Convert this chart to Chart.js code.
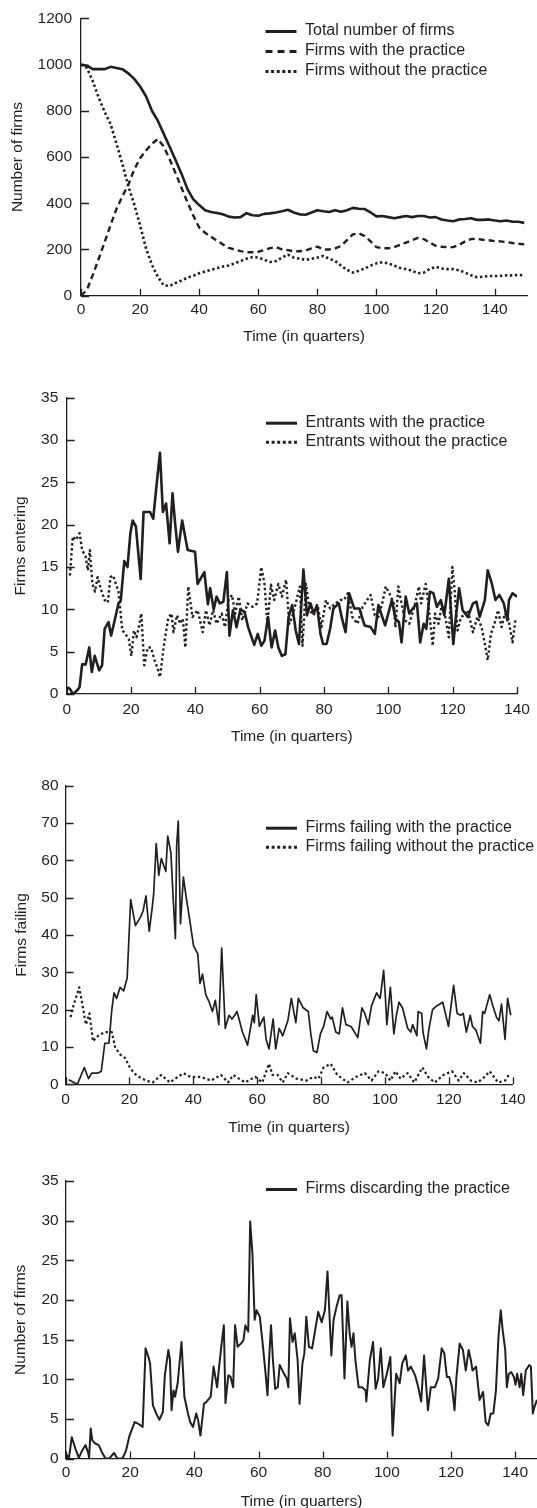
<!DOCTYPE html>
<html>
<head>
<meta charset="utf-8">
<title>Firm population, entry, failure and discarding</title>
<script src="https://cdn.jsdelivr.net/npm/chart.js@4.4.1/dist/chart.umd.min.js"></script>
<style>
  html, body { margin: 0; padding: 0; background: #fff; overflow: hidden; }
  body { width: 537px; height: 1508px; position: relative; }
  canvas { position: absolute; left: 0; }
</style>
</head>
<body>
<canvas id="popChart"></canvas>
<canvas id="entryChart"></canvas>
<canvas id="failChart"></canvas>
<canvas id="discardChart"></canvas>
<script>
// ---- Panel 1: number of firms (every 2 quarters) ----
var popTime = [0, 2, 4, 6, 8, 10, 12, 14, 16, 18,
    20, 22, 24, 26, 28, 30, 32, 34, 36, 38,
    40, 42, 44, 46, 48, 50, 52, 54, 56, 58,
    60, 62, 64, 66, 68, 70, 72, 74, 76, 78,
    80, 82, 84, 86, 88, 90, 92, 94, 96, 98,
    100, 102, 104, 106, 108, 110, 112, 114, 116, 118,
    120, 122, 124, 126, 128, 130, 132, 134, 136, 138,
    140, 142, 144, 146, 148, 150];
var popTotal = [1000, 995, 980, 980, 980, 990, 985, 980, 962, 938,
    905, 863, 800, 757, 700, 644, 587, 528, 462, 417,
    392, 370, 362, 358, 352, 342, 338, 340, 357, 348,
    346, 354, 356, 360, 365, 372, 360, 352, 350, 360,
    370, 365, 362, 370, 363, 370, 380, 376, 375, 360,
    343, 345, 340, 335, 340, 345, 340, 345, 345, 338,
    340, 330, 325, 322, 330, 332, 335, 328, 328, 330,
    325, 322, 325, 320, 320, 315];
var popWith = [0, 25, 90, 160, 232, 305, 375, 430, 480, 545,
    595, 628, 657, 678, 645, 590, 530, 467, 405, 347,
    295, 272, 255, 238, 222, 207, 200, 193, 188, 188,
    190, 197, 206, 210, 200, 197, 192, 192, 195, 205,
    212, 200, 200, 205, 215, 240, 265, 270, 258, 235,
    210, 205, 205, 210, 220, 230, 240, 250, 245, 230,
    216, 212, 210, 210, 220, 235, 245, 246, 242, 240,
    236, 235, 232, 228, 225, 222];
var popWithout = [1000, 985, 928, 856, 795, 743, 658, 570, 474, 396,
    304, 205, 134, 82, 45, 42, 55, 66, 78, 86,
    97, 105, 112, 120, 126, 131, 140, 150, 160, 167,
    165, 155, 146, 150, 165, 178, 165, 160, 155, 160,
    165, 172, 160, 150, 130, 112, 100, 108, 118, 130,
    140, 145, 140, 130, 120, 115, 108, 97, 100, 115,
    125, 118, 115, 115, 110, 100, 88, 80, 82, 85,
    85, 86, 88, 88, 90, 88];

// ---- Panel 2: firms entering ----
var entWithT = [0.2, 1, 1.9, 3.2, 4, 4.8, 5.9, 7, 7.8, 8.7,
    10.1, 11, 11.8, 13, 13.8, 14.8, 16.1, 16.8, 17.9, 18.9,
    19.8, 20.5, 21.5, 23, 23.9, 25.9, 26.9, 28, 29, 29.9,
    30.9, 32, 32.9, 33.7, 34.6, 35.9, 37.6, 39.9, 40.7, 42.8,
    43.9, 44.6, 45.7, 46.6, 47.6, 48.7, 49.8, 50.6, 51.7, 52.8,
    54, 55.3, 56.4, 58.3, 59.4, 60.5, 61.5, 62.6, 63.7, 64.8,
    65.8, 66.9, 68, 69, 70.1, 71.2, 72.2, 73.6, 74.7, 75.8,
    76.8, 77.8, 78.9, 79.7, 80.8, 81.9, 82.9, 84.6, 85.6, 86.7,
    87.8, 89.4, 91, 92.6, 94.5, 95.8, 96.9, 98.1, 99, 101.1,
    102.2, 103.3, 104.1, 105.4, 106.5, 107.6, 108.9, 109.9, 111, 111.8,
    112.9, 114, 115.1, 116.3, 117.4, 118.8, 120.2, 121, 122, 123.1,
    124.7, 126.3, 127.4, 128.4, 130, 130.9, 132.2, 133.3, 134.5, 135.9,
    137, 137.5, 138.6, 140];
var entWithV = [0.8, 0.6, 0, 0.4, 0.8, 3.5, 3.5, 5.5, 2.6, 4.5,
    2.8, 3.4, 7.7, 8.5, 6.9, 8.5, 10.7, 11, 15.7, 15,
    19, 20.5, 19.8, 13.6, 21.5, 21.5, 20.7, 24.9, 28.5, 21.5,
    22.5, 17.8, 23.7, 20.2, 16.8, 20.5, 17, 16.8, 13, 14.4,
    10.6, 12.5, 10, 11.5, 10.7, 10.9, 14.4, 6.9, 9.9, 7.9,
    10, 9.7, 7.9, 5.8, 7.1, 5.7, 6.3, 9.1, 5.5, 7.5,
    5.5, 4.5, 4.7, 9.1, 10.5, 7.5, 5.9, 14.7, 9.3, 10.7,
    9.5, 10.5, 7.1, 5.9, 5.9, 7.7, 10.1, 10.7, 8.9, 7.3,
    11.9, 10.1, 10.1, 8.1, 7.9, 7.1, 10.5, 9.1, 8.1, 11.1,
    8.9, 8.5, 6.1, 11.5, 9.5, 10.1, 10.7, 6.1, 8.3, 7.7,
    12.1, 11.9, 10.3, 11.1, 9.3, 13.6, 5.9, 9.1, 12.5, 9.9,
    9.1, 10.7, 10.9, 9.1, 11.1, 14.6, 13, 11.1, 11.7, 10.7,
    8.7, 11.1, 11.9, 11.5];
var entWithoutT = [1, 1.9, 2.9, 4, 4.8, 5.9, 6.6, 7.2, 8, 8.8,
    9.6, 10.7, 11.8, 12.8, 13.6, 14.4, 15.3, 16.1, 17.3, 18.2,
    19.3, 20.1, 20.9, 21.7, 22.3, 23.2, 24.1, 25.2, 26.2, 27.3,
    28.1, 29, 30.3, 31.6, 32.6, 33.2, 34.3, 35.3, 36.1, 36.9,
    37.8, 39.1, 40.7, 42.3, 43.3, 44.4, 45.5, 46.6, 48.2, 49.2,
    50.3, 51.4, 52.4, 53.5, 54.6, 56.2, 57.8, 59.2, 60.5, 61.5,
    62.4, 63.5, 64.5, 65.8, 66.9, 68.2, 69.2, 70.1, 71.2, 72.5,
    73.3, 74.4, 75.5, 76.7, 78.1, 79.2, 80.6, 81.9, 83.5, 85.1,
    86.2, 87.4, 88.8, 90.4, 92, 93.4, 94.5, 95.8, 96.9, 98.1,
    99.2, 100.3, 101.7, 102.2, 103.1, 104.1, 105.2, 106.5, 108.1, 109.5,
    110.2, 111.6, 112.4, 113.8, 114.5, 115.6, 116.7, 117.7, 118.8, 119.9,
    120.6, 121.5, 122.6, 123.6, 124.7, 126.3, 127.7, 129, 129.8, 130.9,
    131.9, 133, 134.1, 135.2, 136.2, 137.3, 138.6, 139.5];
var entWithoutV = [14, 18.6, 18.2, 19, 17, 16.2, 14.6, 17, 13, 12.1,
    13.8, 12.3, 11.1, 10.8, 13.8, 14, 13, 12.1, 7.5, 7.1,
    6.5, 4.5, 7.5, 6.7, 7.7, 9.5, 3.4, 5.5, 5.5, 4,
    3.2, 2, 6, 9, 9.5, 7.3, 9.3, 8.3, 8.9, 5.5,
    12.7, 9.1, 9.9, 7.3, 9.9, 8.1, 9.9, 8.3, 9.5, 7.9,
    11.1, 11.7, 9.5, 11.5, 8.7, 10.7, 10.3, 10.7, 15, 13,
    8.3, 12.9, 11.1, 13, 11.5, 13.5, 8.3, 9.1, 10.7, 12.7,
    5.7, 13, 9.9, 9.3, 10.3, 7.9, 11.1, 10.1, 10.7, 11.1,
    11.1, 11.9, 9.1, 8.3, 10.3, 11.1, 11.7, 9.3, 9.1, 10.7,
    12.7, 11.9, 10.7, 7.9, 12.7, 10.7, 8.7, 8.3, 10.3, 12.7,
    10.7, 13, 10.7, 5.7, 9.5, 8.3, 10.7, 9.1, 6.7, 15,
    12.3, 7.5, 9.1, 9.3, 9.9, 7.3, 9.1, 7.9, 6.3, 4,
    7.1, 8.3, 9.9, 7.9, 9.5, 8.9, 6.1, 8.7];

// ---- Panel 3: firms failing ----
var failWithT = [1, 3.7, 5.9, 7.2, 8.2, 10.2, 11.2, 12.3, 13.6, 14.5,
    15.2, 16, 17.1, 18.2, 19.3, 20.4, 21.9, 23.6, 24.3, 25.2,
    26.2, 27.1, 27.6, 28.4, 29.2, 30, 31.4, 32, 33, 33.7,
    34.4, 34.8, 35.3, 36, 36.9, 37.8, 38.9, 40.1, 41.4, 42.1,
    42.9, 43.9, 45, 46, 46.9, 48, 48.9, 50, 51.2, 52.1,
    53, 53.7, 55.4, 57, 58.6, 59.1, 59.7, 60.7, 62.1, 62.8,
    63.7, 65, 65.8, 66.9, 68, 69.6, 70.7, 72.1, 72.9, 74.4,
    76, 76.8, 77.6, 78.7, 79.8, 80.8, 81.9, 83, 83.5, 84.6,
    85.7, 86.7, 87.8, 89.4, 91.5, 92.8, 93.7, 94.8, 95.8, 97.4,
    98.5, 99.6, 100.1, 100.6, 101.7, 102.8, 103.5, 104.4, 105.5, 107.1,
    108.1, 108.7, 110, 110.4, 111.5, 111.9, 113, 113.8, 114.9, 116.2,
    117.2, 118.1, 119.2, 119.9, 121.5, 122.6, 123.7, 124.5, 125.5, 126.7,
    127.4, 128.5, 129.9, 130.6, 131.2, 132.8, 133.8, 134.9, 135.7, 136.5,
    137.6, 138.4, 139.4];
var failWithV = [1.2, 0, 4.5, 1.5, 3, 3, 3.5, 11, 11, 20,
    24.5, 23, 26, 25, 28.5, 49.5, 42.5, 45, 46.5, 50.5,
    41, 47, 51, 64.5, 56, 60.5, 57, 66.5, 62, 50,
    39, 64, 70.5, 43, 55.5, 50, 44, 37, 35, 27,
    29.5, 24, 22, 19.5, 22.5, 16, 36.5, 15, 18.5, 17.5,
    18.5, 19.5, 14, 10.5, 18.5, 16.5, 24, 15.5, 18, 12,
    9.5, 17.5, 9.5, 15, 13, 17, 23, 16.5, 23, 20.5,
    19.5, 13.5, 9, 8.5, 13.5, 15.5, 19.5, 17.5, 18, 14,
    13.5, 20.5, 16, 15.5, 12.5, 20.5, 19, 16, 21, 24.5,
    23, 30.5, 24, 16, 26, 13.5, 18, 22, 20.5, 15,
    14, 16, 13, 19.5, 19, 14, 9.5, 15, 20, 21,
    21.5, 22, 18, 15.5, 26.5, 19, 18.5, 19, 14, 18.5,
    15.5, 14.5, 11, 19.5, 19, 24, 21, 18, 17, 21.5,
    12, 23, 18.5];
var failWithoutT = [1.6, 2.1, 4.3, 6.4, 7.5, 8.6, 10.2, 12.3, 14.5, 15.5,
    17.1, 18.7, 19.8, 21.4, 23, 25.2, 27.3, 30, 32.7, 36.9,
    39.1, 42.3, 45.5, 48.7, 50.9, 52.5, 56.2, 59.4, 61.6, 63.7,
    64.8, 66.4, 68, 69.6, 72.3, 75.5, 77.6, 79.2, 80.8, 83,
    85.1, 88.3, 91, 93.7, 95.8, 98, 100.1, 101.7, 103.3, 104.9,
    107.1, 109.2, 111.7, 113.5, 115.6, 118.3, 121, 123.1, 124.7, 126.9,
    129, 131.2, 132.8, 135.4, 137.6, 139.2];
var failWithoutV = [18, 20, 26, 16, 19, 11.5, 13, 14, 14, 10,
    8, 7, 5, 3, 2, 1, 0.5, 2.5, 0.5, 3,
    2, 2, 1, 2.5, 0.5, 2.5, 0.5, 2, 0.5, 5.5,
    2.5, 2.5, 0.5, 3, 1.5, 1, 2, 1.5, 4.5, 5.5,
    2.5, 0.5, 2, 3, 1, 3.5, 3, 1, 3.5, 1.5,
    3, 0.5, 4.5, 2, 0.5, 2.5, 3.5, 1, 3, 1,
    0.5, 2, 3.5, 0.5, 1, 3];

// ---- Panel 4: firms discarding the practice ----
var discT = [0, 0.9, 1.8, 2.9, 4, 5, 6.1, 7, 7.2, 7.7,
    8.2, 9.1, 10.2, 11.2, 12.3, 13.4, 15, 16, 17.6, 18.7,
    19.8, 21.4, 22.5, 23.9, 24.8, 25.7, 26.2, 27.1, 28.1, 29.1,
    30.2, 30.8, 31.9, 32.4, 32.9, 33.5, 34, 34.8, 36, 36.9,
    38, 38.7, 39.6, 40.6, 41.2, 41.9, 43, 43.9, 45.1, 46,
    47.1, 47.6, 48.4, 49.2, 49.7, 50.6, 51.3, 52.1, 52.7, 53.5,
    54.5, 55.3, 55.9, 56.8, 57.4, 58.1, 58.8, 59.4, 60.4, 61.3,
    62, 62.8, 63.4, 63.9, 64.5, 65.2, 66, 66.6, 67.7, 68.8,
    69.3, 69.8, 70.6, 71.3, 72.2, 72.8, 73.7, 74.3, 74.9, 75.7,
    76.7, 77.5, 78.6, 79.7, 80.7, 81.5, 82, 82.7, 83.4, 84.3,
    85.3, 85.9, 86.8, 87.7, 88.4, 89, 89.6, 90.2, 91.2, 92.3,
    93.4, 93.6, 94.7, 95.7, 96.5, 97.3, 98.1, 98.9, 100, 101.1,
    101.8, 102.9, 104, 104.8, 105.9, 106.6, 107.5, 108.8, 109.8, 110.7,
    111.6, 112.8, 113.7, 115, 116, 117.1, 117.9, 118.7, 119.5, 120.3,
    121.1, 121.7, 122.7, 123.7, 124.6, 125.5, 126.2, 126.7, 127.8, 128.9,
    130, 130.8, 131.6, 132.4, 133.2, 134, 134.8, 135.5, 136.1, 136.9,
    137.4, 138, 138.8, 139.6, 140.1, 140.6, 141.4, 141.9, 142.5, 143.3,
    144.4, 144.9, 145.5, 146, 146.8];
var discV = [0.6, 0, 2.7, 1.3, 0.1, 1, 1.7, 0.6, 0.1, 3.8,
    2.3, 1.9, 1.7, 0.8, 0, 0, 0.7, 0, 0, 1,
    2.9, 4.6, 4.4, 4, 13.9, 12.8, 12, 6.7, 5.7, 4.9,
    5.9, 10.5, 13.7, 12.4, 6.1, 8.6, 7.8, 9.5, 14.7, 7.8,
    5.7, 4.6, 4, 5.7, 4.8, 2.9, 6.9, 7.2, 7.8, 11.6,
    9, 11.1, 14.1, 16.8, 7, 10.5, 10.3, 9, 16.8, 14.1,
    14.5, 14.9, 16.8, 16, 29.9, 25.9, 17.5, 18.7, 17.9, 14.5,
    11.6, 8, 13.3, 16.8, 12.4, 8.8, 9, 11.8, 10.9, 10.1,
    9, 17.7, 14.7, 15.8, 12.4, 6.9, 12, 13.3, 17.9, 14.1,
    13.9, 15.8, 18.5, 17.2, 18.7, 23.6, 19.2, 13, 17.5, 19.1,
    20.6, 20.6, 10.1, 19.8, 15.8, 14.1, 15.8, 12.4, 9, 9,
    8.6, 7.2, 12.4, 14.7, 8.8, 10.1, 13.9, 9, 10.7, 12.8,
    2.9, 10.7, 9.5, 12, 13, 11.1, 11.6, 10.5, 9, 7.2,
    13, 6.1, 9, 9, 10.1, 13.9, 13.3, 10.3, 10.3, 9,
    6.1, 10.3, 14.5, 13.7, 11.1, 13.7, 12.4, 11.1, 11.6, 7.4,
    8.4, 4.6, 4.2, 5.7, 5.7, 8.6, 15.4, 18.7, 16.2, 13.7,
    9, 10.7, 10.9, 10.3, 9.3, 10.7, 9, 10.7, 8, 11.1,
    11.8, 11.6, 5.7, 6.5, 7.4];

var INK = '#231f20';
var SOLID = [], DASHED = [6, 4], DOTTED = [2.4, 2.6];

Chart.defaults.font.family = '"Liberation Sans", Arial, Helvetica, sans-serif';
Chart.defaults.font.size = 15.5;
Chart.defaults.color = INK;

function pts(xs, ys) {
    return xs.map(function (x, i) { return { x: x, y: ys[i] }; });
}

function lineSet(label, xs, ys, width, dash, legendDash) {
    return {
        label: label,
        data: pts(xs, ys),
        borderColor: INK,
        borderWidth: width,
        borderDash: dash,
        legendDash: legendDash,
        borderJoinStyle: 'round',
        pointRadius: 0,
        tension: 0,
        fill: false
    };
}

// tick marks drawn on the inside of both axes
const innerTicks = {
    id: 'innerTicks',
    afterDatasetsDraw(chart) {
        const ctx = chart.ctx, a = chart.chartArea, x = chart.scales.x, y = chart.scales.y;
        ctx.save();
        ctx.strokeStyle = INK;
        ctx.lineWidth = 1.3;
        ctx.beginPath();
        x.ticks.forEach(t => {
            const px = Math.round(x.getPixelForValue(t.value)) + 0.5;
            ctx.moveTo(px, a.bottom);
            ctx.lineTo(px, a.bottom - 7);
        });
        y.ticks.forEach(t => {
            const py = Math.round(y.getPixelForValue(t.value)) + 0.5;
            ctx.moveTo(a.left, py);
            ctx.lineTo(a.left + 8, py);
        });
        ctx.stroke();
        ctx.restore();
    }
};

// line-sample legend in the upper right of each panel
const sideLegend = {
    id: 'sideLegend',
    afterDraw(chart, args, opts) {
        const ctx = chart.ctx;
        ctx.save();
        ctx.font = '16px "Liberation Sans", Arial, Helvetica, sans-serif';
        ctx.textBaseline = 'middle';
        ctx.fillStyle = INK;
        ctx.strokeStyle = INK;
        chart.data.datasets.forEach((ds, i) => {
            const y = opts.y - opts.top + i * opts.gap;
            ctx.beginPath();
            ctx.lineWidth = 3;
            ctx.setLineDash(ds.legendDash);
            ctx.moveTo(opts.x, y + 0.5);
            ctx.lineTo(opts.x + 31, y + 0.5);
            ctx.stroke();
            ctx.setLineDash([]);
            ctx.fillText(ds.label, opts.x + 39.5, y);
        });
        ctx.restore();
    }
};

function drawPanel(id, box, datasets, xAxis, yAxis, legendAt) {
    var canvas = document.getElementById(id);
    canvas.width = 537;
    canvas.height = box.height;
    canvas.style.top = box.top + 'px';
    legendAt.top = box.top;

    new Chart(canvas, {
        type: 'line',
        data: { datasets: datasets },
        options: {
            responsive: false,
            animation: false,
            events: [],
            layout: { padding: { top: box.areaTop - box.top, right: 537 - box.areaRight, left: 0, bottom: 0 } },
            plugins: {
                legend: { display: false },
                tooltip: { enabled: false },
                sideLegend: legendAt
            },
            scales: {
                x: {
                    type: 'linear',
                    min: 0,
                    max: xAxis.max,
                    afterFit: function (s) { s.height = box.top + box.height - box.areaBottom; },
                    ticks: { stepSize: 20, includeBounds: false, padding: xAxis.pad, maxRotation: 0, autoSkip: false },
                    grid: { display: false, drawTicks: false },
                    border: { color: INK, width: 1.3 },
                    title: { display: true, text: 'Time (in quarters)', padding: 0, color: INK }
                },
                y: {
                    type: 'linear',
                    min: 0,
                    max: yAxis.max,
                    afterFit: function (s) { s.width = box.areaLeft; },
                    ticks: {
                        stepSize: yAxis.step, padding: yAxis.pad, autoSkip: false,
                        callback: function (v) { return String(v); }
                    },
                    grid: { display: false, drawTicks: false },
                    border: { color: INK, width: 1.3 },
                    title: { display: true, text: yAxis.title, padding: { top: yAxis.titlePad, bottom: 0 }, color: INK }
                }
            }
        },
        plugins: [innerTicks, sideLegend]
    });
}

drawPanel('popChart',
    { top: 0, height: 346, areaTop: 12.3, areaBottom: 295.7, areaLeft: 81, areaRight: 527.2 },
    [
        lineSet('Total number of firms', popTime, popTotal, 2.6, SOLID, SOLID),
        lineSet('Firms with the practice', popTime, popWith, 2.4, DASHED, [7, 5]),
        lineSet('Firms without the practice', popTime, popWithout, 2.6, DOTTED, [3, 2.6])
    ],
    { max: 151, pad: 5 },
    { max: 1200, step: 200, pad: 9, title: 'Number of firms', titlePad: 8.6 },
    { x: 265.5, y: 31, gap: 20 });

drawPanel('entryChart',
    { top: 375, height: 371, areaTop: 397.7, areaBottom: 694, areaLeft: 66.7, areaRight: 517 },
    [
        lineSet('Entrants with the practice', entWithT, entWithV, 2.6, SOLID, SOLID),
        lineSet('Entrants without the practice', entWithoutT, entWithoutV, 2.4, DOTTED, [3, 2.6])
    ],
    { max: 140, pad: 6.7 },
    { max: 35, step: 5, pad: 8.4, title: 'Firms entering', titlePad: 11.2 },
    { x: 266, y: 422.7, gap: 19 });

drawPanel('failChart',
    { top: 765, height: 372, areaTop: 785.7, areaBottom: 1084.3, areaLeft: 65.5, areaRight: 512.7 },
    [
        lineSet('Firms failing with the practice', failWithT, failWithV, 1.7, SOLID, SOLID),
        lineSet('Firms failing without the practice', failWithoutT, failWithoutV, 2.2, DOTTED, [3, 2.6])
    ],
    { max: 140, pad: 6.4 },
    { max: 80, step: 10, pad: 7, title: 'Firms failing', titlePad: 12.9 },
    { x: 266, y: 827.7, gap: 19 });

drawPanel('discardChart',
    { top: 1160, height: 351, areaTop: 1181, areaBottom: 1458.6, areaLeft: 66, areaRight: 537 },
    [
        lineSet('Firms discarding the practice', discT, discV, 2, SOLID, SOLID)
    ],
    { max: 146.8, pad: 5 },
    { max: 35, step: 5, pad: 7.3, title: 'Number of firms', titlePad: 11.2 },
    { x: 266, y: 1189, gap: 19 });
</script>
</body>
</html>
